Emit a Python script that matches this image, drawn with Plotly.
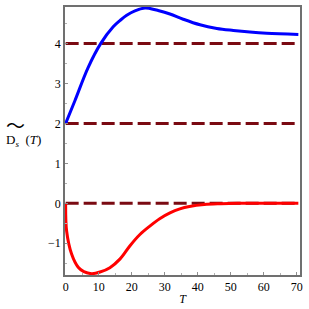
import plotly.graph_objects as go

blue_T = [0, 2.8, 6.8, 10.6, 14.4, 16.5, 18.5, 21, 24, 25.5, 28, 31.6, 35.6, 40.7, 45.8, 50.8, 55.8, 60.9, 70.5]
blue_D = [2.0, 2.57, 3.4, 4.0, 4.42, 4.58, 4.71, 4.82, 4.89, 4.88, 4.83, 4.74, 4.61, 4.47, 4.38, 4.33, 4.29, 4.26, 4.23]

red_T = [0, 0.3, 1.8, 3.8, 5.5, 7.9, 10.4, 13.4, 16.5, 19.5, 22.5, 25.5, 28.6, 31.6, 34.6, 37.5, 42, 47, 52, 60, 70.5]
red_D = [0.0, -0.7, -1.27, -1.6, -1.71, -1.76, -1.72, -1.61, -1.39, -1.06, -0.78, -0.57, -0.38, -0.24, -0.14, -0.08, -0.03, -0.01, 0.0, 0.0, 0.0]

ref_levels = [0, 2, 4]
x_ticks = [0, 10, 20, 30, 40, 50, 60, 70]
y_ticks = [-1, 0, 1, 2, 3, 4]
x_range = [-0.2, 71]
y_range = [-1.794, 4.916]

fig = go.Figure()
for lv in ref_levels:
    fig.add_trace(go.Scatter(x=[0, 70.5], y=[lv, lv], mode="lines",
                             line=dict(color="#7a0a12", width=3, dash="13px,5px"),
                             hoverinfo="skip", showlegend=False))
fig.add_trace(go.Scatter(x=blue_T, y=blue_D, mode="lines", line=dict(color="#0000ff", width=3, shape="spline"),
                         showlegend=False))
fig.add_trace(go.Scatter(x=red_T, y=red_D, mode="lines", line=dict(color="#ff0000", width=3, shape="spline"),
                         showlegend=False))

font = dict(family="Liberation Serif", size=12, color="#000")
fig.update_layout(
    width=309, height=309,
    margin=dict(l=65, r=9, t=5, b=31),
    paper_bgcolor="white", plot_bgcolor="white",
    font=font,
    xaxis=dict(range=x_range, tickvals=x_ticks, showgrid=False, zeroline=False,
               showline=True, linecolor="#707070", linewidth=1.5, mirror=True,
               ticks="inside", ticklen=3, tickcolor="#909090",
               minor=dict(dtick=5, ticks="inside", ticklen=2, tickcolor="#b0b0b0"),
               tickfont=font, title=dict(text="<i>T</i>", font=font, standoff=1)),
    yaxis=dict(range=y_range, tickvals=y_ticks, ticktext=["\u22121", "0", "1", "2", "3", "4"],
               showgrid=False, zeroline=False,
               showline=True, linecolor="#707070", linewidth=1.5, mirror=True,
               ticks="inside", ticklen=3, tickcolor="#909090",
               minor=dict(dtick=0.5, ticks="inside", ticklen=2, tickcolor="#b0b0b0"),
               tickfont=font),
)
fig.add_annotation(xref="paper", yref="paper", x=-0.1766, y=0.503, xanchor="center", yanchor="middle",
                   text="D<sub><i>s</i></sub>\u00a0 (<i>T</i>)", showarrow=False,
                   font=dict(family="Liberation Serif", size=13, color="#000"))
fig.add_annotation(xref="paper", yref="paper", x=-0.2106, y=0.56, xanchor="center", yanchor="middle",
                   text="\u301c", showarrow=False, font=dict(family="Noto Sans CJK JP", size=19, color="#000"))
fig.write_html("out.html", config={"displayModeBar": False},
               post_script="document.body.style.margin='0';")
